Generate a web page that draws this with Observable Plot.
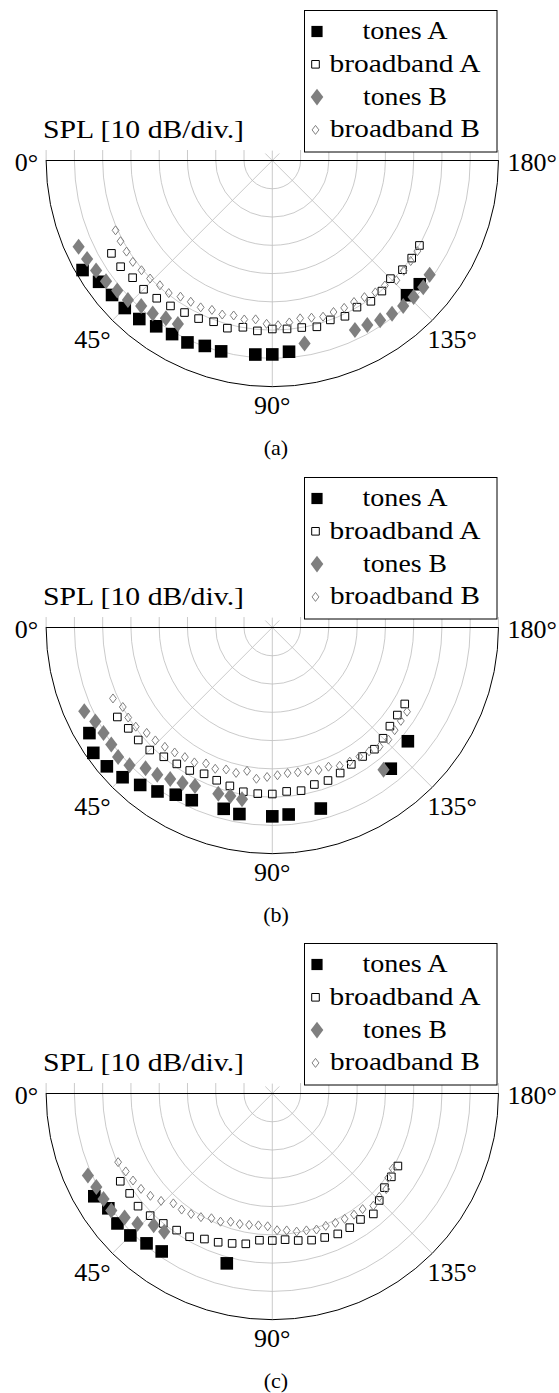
<!DOCTYPE html>
<html><head><meta charset="utf-8">
<script src="https://cdn.jsdelivr.net/npm/d3@7"></script>
<script src="https://cdn.jsdelivr.net/npm/@observablehq/plot@0.6"></script>
<style>
html,body{margin:0;padding:0;overflow:hidden;background:#fff;width:559px;height:1393px}
.panel{position:absolute;left:0;width:559px}
.panel svg{position:absolute;left:0;top:0}
</style></head><body>
<div id="root"></div>
<script>
// ---------------- data ----------------
const seriesNames = ["tones A", "broadband A", "tones B", "broadband B"];
const panelLabels = ["(a)", "(b)", "(c)"];
const radialLabel = "SPL [10 dB/div.]";
const angleTicks = [0, 45, 90, 135, 180];       // degrees
const angleSpokes = [45, 90, 135];
const splGrid = [10, 20, 30, 40, 50, 60, 70];   // dB (10 dB/div)
const splMax = 80;

const anglesBroadbandA = [30,35,40,45,50,55,60,65,70,75,80,85,90,95,100,105,110,115,120,125,130,135,140,145,150];
const anglesBroadbandB = [24,28,32,36,40,44,48,52,56,60,64,68,72,76,80,84,88,92,96,100,104,108,112,116,120,124,128,132,136,140,144,148];

// panel (a)
const aTonesAAngles = [30,35,40,45,50,55,60,65,70,75,85,90,95,135,140];
const aTonesA = [77.5,74.8,74.0,73.8,73.2,71.6,70.9,71.0,69.8,69.9,68.9,68.6,67.9,67.4,68.1];
const aBroadbandA = [65.7,65.5,64.5,64.4,63.6,62.8,62.1,61.7,60.7,61.4,59.9,60.5,59.6,59.8,60.0,60.9,60.0,60.8,59.9,60.8,60.3,59.1,60.1,60.2,60.1];
const aTonesBAngles = [24,28,32,36,40,44,48,52,56,60,100,116,120,124,128,132,136,140,144];
const aTonesB = [75.0,74.2,73.5,72.7,71.6,71.0,69.3,68.7,67.3,66.8,65.7,66.7,67.2,68.2,68.8,69.2,69.5,69.7,68.8];
const aBroadbandB = [60.7,60.8,60.8,61.0,60.4,60.1,59.4,59.5,58.1,57.7,57.8,57.0,57.3,56.5,57.1,56.5,57.8,58.3,57.6,56.7,57.3,58.1,57.8,58.0,57.8,58.3,59.2,59.5,61.0,60.7,60.5,60.5];

// panel (b)
const bTonesAAngles = [30,35,40,45,50,55,60,65,75,80,90,95,105,130,140];
const bTonesA = [74.7,77.3,76.4,74.9,72.7,70.8,68.3,67.4,66.4,67.0,66.8,66.4,66.3,65.2,62.6];
const bBroadbandA = [63.3,62.2,61.9,61.3,59.7,58.9,58.4,57.1,57.5,58.0,59.0,59.0,58.9,58.2,58.6,57.5,57.6,56.8,55.9,55.7,56.2,55.4,54.3,54.0,54.1];
const bTonesBAngles = [24,28,32,36,40,44,48,52,56,60,64,72,76,80,128];
const bTonesB = [72.8,70.9,70.4,70.4,71.2,70.2,67.0,66.1,64.6,63.5,62.4,61.8,61.4,61.7,63.9];
const bBroadbandB = [61.7,59.9,60.1,59.7,58.0,57.5,56.8,56.1,55.3,55.1,53.5,53.9,52.8,53.0,51.5,53.8,52.9,52.3,51.8,52.0,52.2,53.0,53.1,54.4,54.8,55.1,55.6,56.7,57.1,56.5,56.2,56.2];

// panel (c)
const cTonesAAngles = [30,35,40,45,50,55,75];
const cTonesA = [72.7,70.8,71.5,71.0,69.2,68.2,62.2];
const cBroadbandA = [62.1,61.6,62.0,61.1,60.0,59.0,58.5,56.8,56.0,54.9,54.0,52.1,52.0,51.9,52.8,53.7,54.2,54.8,54.8,54.4,55.6,53.5,51.8,51.4,51.3];
const cTonesBAngles = [24,28,32,36,40,44,48,52];
const cTonesB = [71.4,70.5,70.4,70.4,68.2,66.3,62.7,62.1];
const cBroadbandB = [59.7,58.7,58.1,57.4,56.3,54.7,52.3,52.1,51.4,50.5,49.1,48.9,47.7,47.6,47.2,46.9,47.0,48.4,48.7,49.6,49.9,50.6,50.5,50.9,51.2,51.7,51.9,53.4,52.6,52.6,50.7,50.2];

// ---------------- layout / style ----------------
const W = 559, PH = 466.6, SVGH = 440;
const CX = 271.8, CY = 160, U = 28.27;     // px per 10 dB
const DIV = 10;
const GRID = "#bdbdbd", GRAY = "#7f7f7f";
const FONT = "'Liberation Serif', 'Times New Roman', 'DejaVu Serif', serif";

const squareSym = {draw(ctx, size) { const h = Math.sqrt(size / Math.PI); ctx.rect(-h, -h, 2 * h, 2 * h); }};
const diamondSym = {draw(ctx, size) { const h = Math.sqrt(size / Math.PI), w = h * 0.76;
  ctx.moveTo(0, -h); ctx.lineTo(w, 0); ctx.lineTo(0, h); ctx.lineTo(-w, 0); ctx.closePath(); }};

const styles = [
  {symbol: squareSym, r: 6.3, fill: "black", stroke: "none", strokeWidth: 0, lr: 5.6},
  {symbol: squareSym, r: 3.8, fill: "none", stroke: "black", strokeWidth: 1, lr: 3.8},
  {symbol: diamondSym, r: 8.0, fill: GRAY, stroke: "none", strokeWidth: 0, lr: 8.3},
  {symbol: diamondSym, r: 4.5, fill: "none", stroke: GRAY, strokeWidth: 1, lr: 4.5}
];

const rad = a => a * Math.PI / 180;
const px = (a, v) => -v * Math.cos(rad(a));
const py = (a, v) => v * Math.sin(rad(a));
const rows = (angs, vals) => angs.map((a, i) => ({a, v: vals[i]}));

const panels = [
  [rows(aTonesAAngles, aTonesA), rows(anglesBroadbandA, aBroadbandA), rows(aTonesBAngles, aTonesB), rows(anglesBroadbandB, aBroadbandB)],
  [rows(bTonesAAngles, bTonesA), rows(anglesBroadbandA, bBroadbandA), rows(bTonesBAngles, bTonesB), rows(anglesBroadbandB, bBroadbandB)],
  [rows(cTonesAAngles, cTonesA), rows(anglesBroadbandA, cBroadbandA), rows(cTonesBAngles, cTonesB), rows(anglesBroadbandB, cBroadbandB)]
];

const XE = 9.5 * DIV, YE = 8.4 * DIV;
const xr = [CX - 9.5 * U, CX + 9.5 * U];
const yr = [CY, CY + 8.4 * U];
const tickXs = splGrid.concat([splMax]).flatMap(v => [-v, v]);
const spokeExt = 3.5, tickLen = 3.7;

function tickLabel(a, opts) {
  return Plot.text([a], {x: d => px(d, splMax), y: d => py(d, splMax), text: d => d + "°",
    fontFamily: FONT, fontSize: 26, fill: "black", lineAnchor: "middle", ...opts});
}

const root = document.getElementById("root");
panels.forEach((series, pi) => {
  const div = document.createElement("div");
  div.className = "panel";
  div.style.top = (pi * PH) + "px";
  div.style.height = PH + "px";
  root.appendChild(div);

  const plot = Plot.plot({
    width: W, height: SVGH,
    marginLeft: xr[0], marginRight: W - xr[1], marginTop: yr[0], marginBottom: SVGH - yr[1],
    x: {domain: [-XE, XE], range: xr, axis: null},
    y: {domain: [0, YE], range: yr, axis: null},
    r: {type: "linear", domain: [0, splMax], range: [0, splMax / DIV * U]},
    style: {background: "transparent", overflow: "visible", fontFamily: FONT},
    marks: [
      Plot.dot(splGrid, {x: () => 0, y: () => 0, r: d => d, fill: "none", stroke: GRID, strokeWidth: 0.8, clip: true}),
      Plot.link(angleSpokes, {x1: a => px(a, -spokeExt), y1: a => py(a, -spokeExt), x2: a => px(a, splMax), y2: a => py(a, splMax), stroke: GRID, strokeWidth: 0.8}),
      Plot.link(tickXs, {x1: d => d, x2: d => d, y1: () => 0, y2: () => -tickLen, stroke: GRID, strokeWidth: 0.8}),
      Plot.dot([splMax], {x: () => 0, y: () => 0, r: d => d, fill: "none", stroke: "black", strokeWidth: 1, clip: true}),
      Plot.link([splMax], {x1: d => -d, x2: d => d, y1: () => 0, y2: () => 0, stroke: "black", strokeWidth: 1}),
      ...series.map((data, si) => Plot.dot(data, {
        x: d => px(d.a, d.v), y: d => py(d.a, d.v),
        symbol: styles[si].symbol, r: styles[si].r, fill: styles[si].fill,
        stroke: styles[si].stroke, strokeWidth: styles[si].strokeWidth
      })),
      tickLabel(0, {textAnchor: "end", dx: -8, dy: 2}),
      tickLabel(180, {textAnchor: "start", dx: 9, dy: 2}),
      tickLabel(45, {textAnchor: "middle", dx: -20, dy: 19}),
      tickLabel(90, {textAnchor: "middle", dx: 0, dy: 19}),
      tickLabel(135, {textAnchor: "middle", dx: 20, dy: 19})
    ]
  });
  div.appendChild(plot);

  // overlay: radial-axis label, legend, caption
  const ov = d3.create("svg").attr("width", W).attr("height", PH)
    .style("font-family", FONT).style("pointer-events", "none");
  ov.append("text").attr("x", 43).attr("y", 138).attr("font-size", 25).attr("font-family", FONT)
    .attr("textLength", 201).attr("lengthAdjust", "spacingAndGlyphs").text(radialLabel);
  ov.append("rect").attr("x", 304.5).attr("y", 10.5).attr("width", 192.5).attr("height", 141.5)
    .attr("fill", "white").attr("stroke", "black").attr("stroke-width", 1);
  const legendLen = [85, 151, 84, 150];
  const legendMX = [317, 315.5, 317, 315.5];
  seriesNames.forEach((name, i) => {
    const base = 39 + 32.8 * i;
    const st = styles[i];
    ov.append("path").attr("transform", `translate(${legendMX[i]},${base - 7.5})`)
      .attr("d", d3.symbol(st.symbol, Math.PI * st.lr * st.lr)())
      .attr("fill", st.fill).attr("stroke", st.stroke).attr("stroke-width", st.strokeWidth);
    ov.append("text").attr("x", 405).attr("y", base).attr("font-size", 25).attr("font-family", FONT)
      .attr("text-anchor", "middle").attr("textLength", legendLen[i])
      .attr("lengthAdjust", "spacingAndGlyphs").text(name);
  });
  ov.append("text").attr("x", 276).attr("y", 455).attr("font-size", 22).attr("font-family", FONT)
    .attr("text-anchor", "middle").text(panelLabels[pi]);
  div.appendChild(ov.node());
});
</script>
</body></html>
